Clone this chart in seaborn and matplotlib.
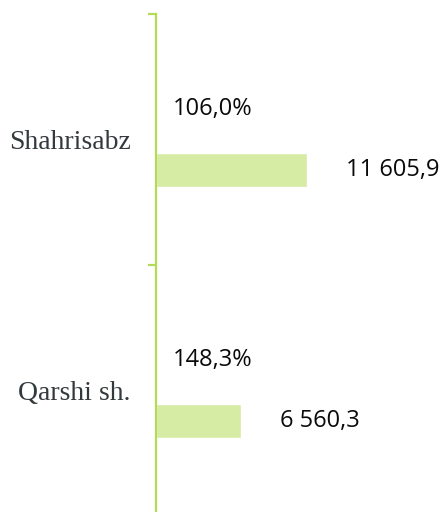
import matplotlib
matplotlib.use('Agg')
import matplotlib.pyplot as plt
import seaborn as sns
import pandas as pd

# chart data
districts = ['Shahrisabz', 'Qarshi sh.']
volume = [11605.9, 6560.3]
growth_pct = [106.0, 148.3]

sns.set_style('white')
plt.rcParams['font.family'] = ['Open Sans', 'DejaVu Sans']

df = pd.DataFrame({
    'district': districts * 2,
    'series': ['growth'] * len(districts) + ['volume'] * len(districts),
    'value': growth_pct + volume,
})

bar_green = '#d6eba3'
line_green = '#b2dc55'

fig = plt.figure(figsize=(4.47, 5.12), dpi=100)
ax = fig.add_axes([156 / 447, -4 / 512, 1 - 156 / 447, 502 / 512])

sns.barplot(data=df, y='district', x='value', hue='series', order=districts,
            hue_order=['growth', 'volume'], palette={'growth': bar_green, 'volume': bar_green},
            saturation=1, width=0.486, gap=0.44, dodge=True, legend=False, ax=ax)

# growth bars are only anchors for the percentage labels
n = len(districts)
growth_bars = ax.patches[:n]
volume_bars = ax.patches[n:2 * n]
for p in growth_bars:
    p.set_alpha(0)

for p, v in zip(growth_bars, growth_pct):
    ax.annotate('{:.1f}%'.format(v).replace('.', ','),
                (p.get_x() + p.get_width(), p.get_y() + p.get_height() / 2),
                xytext=(11, 0), textcoords='offset points',
                ha='left', va='center', fontsize=17, color='#0a0a0a')

for p, v in zip(volume_bars, volume):
    txt = '{:,.1f}'.format(v).replace(',', ' ').replace('.', ',')
    ax.annotate(txt, (p.get_x() + p.get_width(), p.get_y() + p.get_height() / 2),
                xytext=(28, 0), textcoords='offset points',
                ha='left', va='center', fontsize=17, color='#0a0a0a')

ax.set_xlim(0, 22370)
ax.set_ylim(1.5, -0.5)
ax.set_xlabel('')
ax.set_ylabel('')
ax.set_xticks([])

for side in ['top', 'right', 'bottom']:
    ax.spines[side].set_visible(False)
ax.spines['left'].set_color(line_green)
ax.spines['left'].set_linewidth(1.6)

# tick marks between categories, labels at the centres
ax.set_yticks([-0.5, 0.5, 1.5], minor=True)
ax.tick_params(axis='y', which='minor', length=6, width=1.6, color=line_green, left=True)
ax.tick_params(axis='y', which='major', length=0, pad=18)
ax.set_yticklabels(districts, family='Liberation Serif', fontsize=20, color='#333a3d')

fig.savefig('out.png', dpi=100)
